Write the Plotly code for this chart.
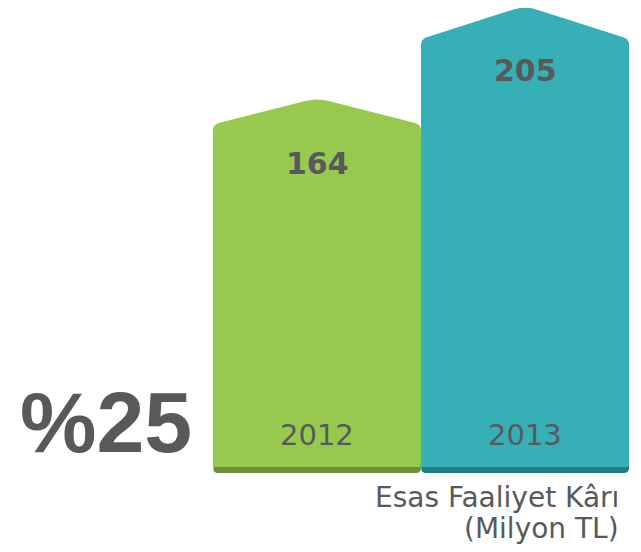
import numpy as np
import plotly.graph_objects as go

# ---- data ----
years = ["2012", "2013"]
values = [164, 205]
value_labels = ["164", "205"]
growth_label = "%25"
caption_lines = ["Esas Faaliyet Kârı", "(Milyon TL)"]

# ---- style ----
PAGE_W, PAGE_H = 641, 552
OFF = 8                    # browser default body margin
W, H = PAGE_W - OFF, PAGE_H - OFF
bar_colors = ["#97C94F", "#37AFB6"]
edge_colors = ["#6C8F3B", "#1F7E83"]
text_color = "#58595B"

px_per_x = 208.0          # pixels per category step
px_per_y = 2.25           # pixels per value unit
center0_px = 317.0 - OFF  # pixel x of first category (figure coords)
zero_px = 467.0 - OFF     # pixel y of value 0 (figure coords)

x_range = [-center0_px / px_per_x, (W - center0_px) / px_per_x]
y_range = [-(H - zero_px) / px_per_y, zero_px / px_per_y]

half_w = 104.0
cap_frac = 0.072          # share of the bar height taken by the pointed cap


def rounded(poly, radii, n=10):
    out = []
    m = len(poly)
    for i in range(m):
        P = np.array(poly[i], float)
        r = radii[i]
        if r <= 0:
            out.append(P)
            continue
        A = np.array(poly[i - 1], float)
        B = np.array(poly[(i + 1) % m], float)
        u = (A - P) / np.linalg.norm(A - P)
        v = (B - P) / np.linalg.norm(B - P)
        P1 = P + u * r
        P2 = P + v * r
        for t in np.linspace(0, 1, n):
            out.append((1 - t) ** 2 * P1 + 2 * (1 - t) * t * P + t ** 2 * P2)
    out.append(out[0])
    return np.array(out)


fig = go.Figure()

for i, (yr, val) in enumerate(zip(years, values)):
    h = val * px_per_y
    s = h * (1 - cap_frac)
    # dark bottom edge
    edge = rounded([(-half_w, 10), (-half_w, -6), (half_w, -6), (half_w, 10)],
                   [0, 5, 5, 0])
    fig.add_trace(go.Scatter(
        x=i + edge[:, 0] / px_per_x, y=edge[:, 1] / px_per_y,
        fill="toself", fillcolor=edge_colors[i], mode="lines",
        line=dict(width=0, color=edge_colors[i]), hoverinfo="skip",
        showlegend=False))
    body = rounded([(-half_w, 0), (-half_w, s), (0, h), (half_w, s), (half_w, 0)],
                   [2, 6, 12, 6, 2])
    fig.add_trace(go.Scatter(
        x=i + body[:, 0] / px_per_x, y=body[:, 1] / px_per_y,
        fill="toself", fillcolor=bar_colors[i], mode="lines",
        line=dict(width=0, color=bar_colors[i]), name=yr,
        hovertemplate=f"{yr}: {val}<extra></extra>", showlegend=False))
    fig.add_annotation(x=i, y=val - 65 / px_per_y, xref="x", yref="y",
                       text=f"<b>{value_labels[i]}</b>", showarrow=False,
                       font=dict(family="DejaVu Sans", size=30, color=text_color))
    fig.add_annotation(x=i, y=32 / px_per_y, xref="x", yref="y",
                       text=yr, showarrow=False,
                       font=dict(family="DejaVu Sans", size=29, color=text_color))

fig.add_annotation(x=(18 - OFF) / W, y=1 - (422 - OFF) / H, xref="paper", yref="paper",
                   xanchor="left", yanchor="middle", text=f"<b>{growth_label}</b>",
                   showarrow=False,
                   font=dict(family="Liberation Sans", size=86, color=text_color))

for j, (line, cy) in enumerate(zip(caption_lines, [497, 528])):
    fig.add_annotation(x=(621 - OFF) / W, y=1 - (cy - OFF) / H, xref="paper", yref="paper",
                       xanchor="right", yanchor="middle", align="right",
                       text=line, showarrow=False,
                       font=dict(family="DejaVu Sans", size=28, color=text_color))

fig.update_layout(
    width=W, height=H, margin=dict(l=0, r=0, t=0, b=0),
    paper_bgcolor="white", plot_bgcolor="white",
    xaxis=dict(range=x_range, visible=False, fixedrange=True),
    yaxis=dict(range=y_range, visible=False, fixedrange=True),
)

fig.write_html("out.html")
